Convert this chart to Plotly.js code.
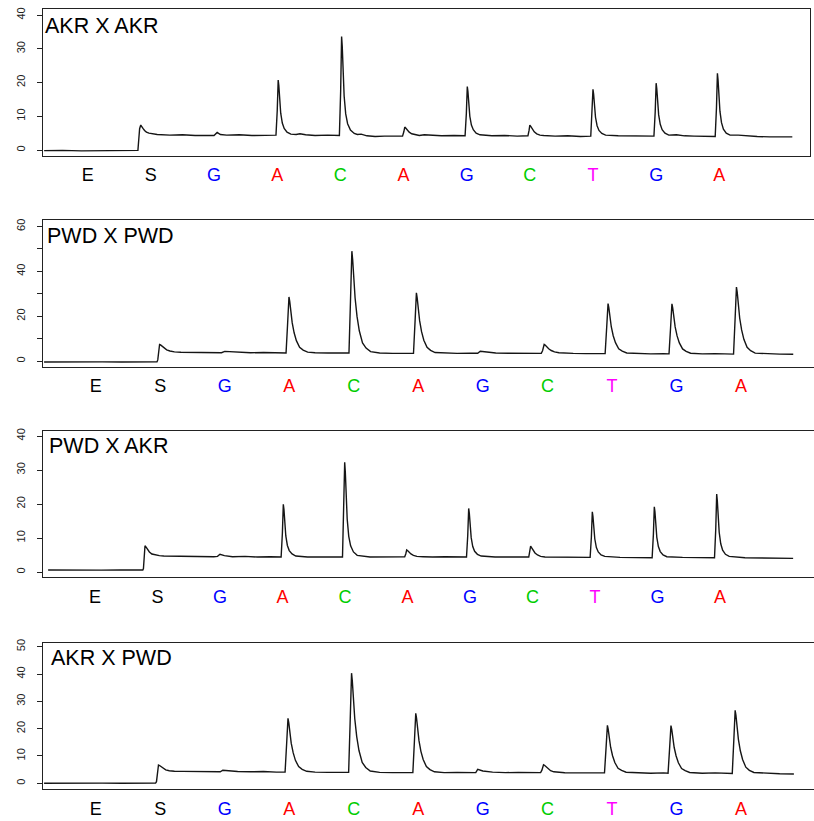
<!DOCTYPE html>
<html><head><meta charset="utf-8">
<script src="https://cdn.plot.ly/plotly-3.0.1.min.js"></script>
<style>html,body{margin:0;padding:0;background:#fff;} #chart{width:814px;height:821px;}</style>
</head><body><div id="chart"></div>
<script>
// ---------- DATA ----------
const dispensation = ['E','S','G','A','C','A','G','C','T','G','A'];
const baseColors = {E:'#000000', S:'#000000', G:'#0000FF', A:'#FF0000', C:'#00CD00', T:'#FF00FF'};
const panelNames = ['AKR X AKR', 'PWD X PWD', 'PWD X AKR', 'AKR X PWD'];

// signal traces: [dispensation position, light units]
const traceAkrAkr = [
 [0.31,-0.2],[0.6,-0.1],[0.9,-0.25],[1.2,-0.15],[1.5,-0.2],[1.78,-0.15],
 [1.795,-0.1],[1.81,3.5],[1.822,6.3],[1.84,7.4],[1.855,7.1],[1.875,6.4],[1.9,5.8],[1.93,5.3],[1.97,5.0],[2.02,4.8],[2.1,4.6],[2.3,4.4],[2.5,4.5],[2.7,4.3],[2.9,4.4],[3.0,4.3],[3.05,5.2],[3.1,4.6],[3.2,4.4],[3.4,4.5],[3.6,4.3],[3.8,4.4],[3.981,4.4],
 [4.001,11.7],[4.010,18.7],[4.016,20.7],[4.026,19.1],[4.038,15.0],[4.056,10.9],[4.081,8.0],[4.111,6.4],[4.156,5.3],[4.216,4.7],[4.3,4.6],[4.36,4.8],[4.45,4.5],[4.6,4.3],[4.8,4.4],[4.985,4.3],
 [5.005,17.5],[5.014,30.1],[5.02,33.6],[5.03,30.7],[5.042,23.3],[5.06,16.0],[5.085,10.7],[5.115,7.8],[5.16,5.9],[5.22,4.9],[5.27,4.6],[5.33,4.7],[5.42,4.2],[5.55,4.0],[5.7,4.1],[5.85,4.0],[5.985,4.1],
 [6.005,5.4],[6.02,6.8],[6.035,6.5],[6.06,5.9],[6.09,5.3],[6.13,4.8],[6.18,4.5],[6.25,4.3],[6.33,4.5],[6.45,4.3],[6.6,4.2],[6.8,4.3],[6.975,4.2],
 [6.995,10.8],[7.004,17.0],[7.01,18.8],[7.02,17.3],[7.032,13.7],[7.05,10.0],[7.075,7.4],[7.105,6.0],[7.15,5.0],[7.21,4.5],[7.4,4.2],[7.6,4.3],[7.8,4.1],[7.97,4.2],
 [7.988,5.8],[8.0,7.4],[8.015,7.0],[8.04,6.2],[8.07,5.4],[8.11,4.8],[8.16,4.4],[8.22,4.3],[8.4,4.1],[8.6,4.2],[8.8,4.0],[8.965,4.1],
 [8.985,10.4],[8.994,16.3],[9.0,18.0],[9.01,16.6],[9.022,13.1],[9.04,9.7],[9.065,7.2],[9.095,5.8],[9.14,4.9],[9.2,4.4],[9.4,4.2],[9.6,4.1],[9.8,4.2],[9.965,4.1],
 [9.985,11.2],[9.994,17.9],[10.0,19.8],[10.01,18.2],[10.022,14.3],[10.04,10.4],[10.065,7.6],[10.095,6.0],[10.14,5.0],[10.2,4.4],[10.32,4.5],[10.45,4.2],[10.6,4.1],[10.8,4.1],[10.935,4.0],
 [10.955,12.4],[10.964,20.5],[10.97,22.7],[10.98,20.8],[10.992,16.2],[11.01,11.5],[11.035,8.1],[11.065,6.2],[11.11,5.0],[11.17,4.4],[11.3,4.4],[11.45,4.1],[11.6,4.0],[11.8,3.9],[12.0,4.0],[12.156,3.9]
];
const tracePwdPwd = [
 [0.2,-0.4],[0.5,-0.3],[0.8,-0.45],[1.1,-0.35],[1.4,-0.4],[1.7,-0.3],[1.95,-0.3],
 [1.962,0.5],[1.972,4.0],[1.981,6.6],[1.99,7.4],[2.005,7.2],[2.03,6.5],[2.06,5.7],[2.1,5.0],[2.15,4.5],[2.22,4.1],[2.32,3.9],[2.45,3.8],[2.6,3.7],[2.8,3.8],[2.95,3.7],[3.0,4.3],[3.1,4.1],[3.25,3.8],[3.4,3.7],[3.6,3.8],[3.8,3.6],[3.95,3.6],
 [3.973,16.1],[3.986,26.1],[3.995,28.6],[4.007,26.6],[4.023,22.1],[4.045,17.1],[4.075,12.6],[4.11,9.1],[4.16,6.1],[4.215,4.85],[4.285,4.0],[4.4,3.7],[4.6,3.6],[4.8,3.7],[4.925,3.6],
 [4.948,26.3],[4.961,44.5],[4.97,49.0],[4.982,45.4],[4.998,37.2],[5.02,28.1],[5.05,19.9],[5.085,13.5],[5.135,8.1],[5.19,5.8],[5.26,4.2],[5.4,3.6],[5.6,3.4],[5.8,3.5],[5.925,3.4],
 [5.948,16.9],[5.961,27.7],[5.97,30.4],[5.982,28.2],[5.998,23.4],[6.02,18.0],[6.05,13.1],[6.085,9.3],[6.135,6.1],[6.19,4.75],[6.26,3.8],[6.4,3.5],[6.6,3.4],[6.8,3.5],[6.92,3.5],[6.96,4.4],[7.0,4.3],[7.05,4.0],[7.2,3.6],[7.4,3.5],[7.6,3.4],[7.8,3.4],[7.905,3.4],
 [7.925,4.6],[7.94,6.6],[7.95,7.4],[7.965,7.1],[7.99,6.3],[8.02,5.5],[8.06,4.7],[8.11,4.1],[8.18,3.7],[8.28,3.5],[8.4,3.4],[8.6,3.3],[8.8,3.4],[8.895,3.3],
 [8.918,14.5],[8.931,23.4],[8.94,25.6],[8.952,23.8],[8.968,19.8],[8.99,15.3],[9.02,11.3],[9.055,8.2],[9.105,5.5],[9.16,4.4],[9.23,3.6],[9.4,3.3],[9.6,3.2],[9.8,3.3],[9.885,3.2],
 [9.908,14.4],[9.921,23.3],[9.93,25.5],[9.942,23.7],[9.958,19.7],[9.98,15.2],[10.01,11.2],[10.045,8.1],[10.095,5.4],[10.15,4.3],[10.22,3.5],[10.4,3.2],[10.6,3.3],[10.8,3.2],[10.885,3.1],
 [10.908,18.1],[10.921,30.0],[10.93,33.0],[10.942,30.6],[10.958,25.2],[10.98,19.2],[11.01,13.9],[11.045,9.7],[11.095,6.1],[11.15,4.6],[11.22,3.55],[11.4,3.2],[11.6,3.1],[11.81,3.0]
];
const tracePwdAkr = [
 [0.25,0.6],[0.5,0.55],[0.8,0.65],[1.1,0.55],[1.4,0.6],[1.6,0.65],[1.765,0.6],
 [1.775,1.0],[1.785,4.5],[1.793,7.0],[1.80,7.7],[1.815,7.4],[1.84,6.6],[1.87,5.9],[1.91,5.3],[1.96,5.0],[2.03,4.8],[2.1,4.7],[2.3,4.6],[2.5,4.5],[2.7,4.6],[2.9,4.5],[2.96,4.6],[3.0,5.2],[3.07,4.8],[3.2,4.5],[3.4,4.6],[3.6,4.4],[3.8,4.5],[3.978,4.4],
 [3.998,11.4],[4.007,18.0],[4.013,19.9],[4.023,18.4],[4.035,14.5],[4.053,10.6],[4.078,7.8],[4.108,6.3],[4.153,5.3],[4.213,4.7],[4.4,4.4],[4.6,4.5],[4.8,4.4],[4.96,4.4],
 [4.98,17.0],[4.989,29.0],[4.995,32.3],[5.005,29.5],[5.017,22.5],[5.035,15.6],[5.06,10.5],[5.09,7.7],[5.135,5.9],[5.195,4.9],[5.4,4.4],[5.6,4.5],[5.8,4.4],[5.955,4.5],
 [5.972,5.3],[5.987,6.5],[6.0,6.3],[6.025,5.8],[6.055,5.3],[6.095,4.9],[6.15,4.6],[6.25,4.5],[6.4,4.4],[6.6,4.5],[6.8,4.4],[6.944,4.4],
 [6.964,10.8],[6.973,17.0],[6.979,18.7],[6.989,17.3],[7.001,13.7],[7.019,10.1],[7.044,7.5],[7.074,6.1],[7.119,5.2],[7.179,4.7],[7.4,4.4],[7.6,4.5],[7.8,4.4],[7.94,4.4],
 [7.958,6.0],[7.97,7.6],[7.985,7.2],[8.01,6.4],[8.04,5.6],[8.08,5.0],[8.13,4.6],[8.2,4.4],[8.4,4.4],[8.6,4.3],[8.8,4.4],[8.922,4.3],
 [8.942,10.3],[8.951,16.1],[8.957,17.7],[8.967,16.4],[8.979,13.0],[8.997,9.7],[9.022,7.2],[9.052,5.9],[9.097,5.0],[9.157,4.6],[9.4,4.3],[9.6,4.2],[9.8,4.3],[9.914,4.2],
 [9.934,11.0],[9.943,17.4],[9.949,19.2],[9.959,17.7],[9.971,14.0],[9.989,10.2],[10.014,7.5],[10.044,6.0],[10.089,5.0],[10.149,4.5],[10.4,4.3],[10.6,4.2],[10.8,4.3],[10.912,4.2],
 [10.932,12.6],[10.941,20.7],[10.947,22.9],[10.957,21.0],[10.969,16.4],[10.987,11.7],[11.012,8.3],[11.042,6.4],[11.087,5.2],[11.147,4.6],[11.4,4.2],[11.6,4.1],[11.8,4.0],[12.0,4.1],[12.17,4.0]
];
const traceAkrPwd = [
 [0.2,0.0],[0.5,0.1],[0.8,-0.05],[1.1,0.05],[1.4,0.0],[1.7,0.1],[1.928,0.05],
 [1.942,0.6],[1.954,3.8],[1.964,6.0],[1.973,6.7],[1.99,6.5],[2.015,6.0],[2.045,5.4],[2.085,4.9],[2.14,4.6],[2.22,4.4],[2.35,4.35],[2.45,4.3],[2.65,4.2],[2.85,4.3],[2.93,4.2],[2.97,4.8],[3.06,4.5],[3.2,4.3],[3.4,4.2],[3.6,4.3],[3.8,4.1],[3.935,4.1],
 [3.958,14.0],[3.971,21.8],[3.98,23.8],[3.992,22.2],[4.008,18.7],[4.03,14.7],[4.06,11.2],[4.095,8.4],[4.145,6.1],[4.2,5.1],[4.27,4.4],[4.4,4.1],[4.6,4.0],[4.8,4.1],[4.92,4.0],
 [4.943,22.2],[4.956,36.7],[4.965,40.3],[4.977,37.4],[4.993,30.9],[5.015,23.6],[5.045,17.1],[5.08,12.0],[5.13,7.6],[5.185,5.8],[5.255,4.5],[5.4,4.0],[5.6,3.9],[5.8,4.0],[5.915,3.9],
 [5.938,14.75],[5.951,23.4],[5.96,25.6],[5.972,23.9],[5.988,20.0],[6.01,15.6],[6.04,11.7],[6.075,8.7],[6.125,6.1],[6.18,5.0],[6.25,4.2],[6.4,3.9],[6.6,4.0],[6.8,3.9],[6.89,3.9],[6.92,5.1],[6.96,4.8],[7.0,4.5],[7.15,4.1],[7.35,3.9],[7.55,4.0],[7.75,3.8],[7.895,3.9],
 [7.915,4.8],[7.93,6.2],[7.94,6.8],[7.955,6.6],[7.98,6.0],[8.01,5.3],[8.05,4.6],[8.1,4.2],[8.17,3.95],[8.27,3.85],[8.4,3.8],[8.6,3.9],[8.8,3.8],[8.885,3.8],
 [8.908,12.5],[8.921,19.5],[8.93,21.2],[8.942,19.8],[8.958,16.7],[8.98,13.2],[9.01,10.1],[9.045,7.6],[9.095,5.5],[9.15,4.7],[9.22,4.05],[9.4,3.8],[9.6,3.7],[9.8,3.8],[9.87,3.7],
 [9.893,12.4],[9.906,19.4],[9.915,21.1],[9.927,19.7],[9.943,16.6],[9.965,13.1],[9.995,10.0],[10.03,7.5],[10.08,5.4],[10.135,4.6],[10.205,3.95],[10.4,3.7],[10.6,3.8],[10.8,3.6],[10.865,3.6],
 [10.888,15.15],[10.901,24.4],[10.91,26.7],[10.922,24.85],[10.938,20.7],[10.96,16.1],[10.99,11.9],[11.025,8.7],[11.075,5.9],[11.13,4.75],[11.2,3.95],[11.4,3.6],[11.6,3.5],[11.82,3.4]
];
const yTicksAkrAkr = [0,10,20,30,40];      const yLabelsAkrAkr = ['0','10','20','30','40'];
const yTicksPwdPwd = [0,10,20,30,40,50,60]; const yLabelsPwdPwd = ['0','','20','','40','','60'];
const yTicksPwdAkr = [0,10,20,30,40];      const yLabelsPwdAkr = ['0','10','20','30','40'];
const yTicksAkrPwd = [0,10,20,30,40,50];   const yLabelsAkrPwd = ['0','10','20','30','40','50'];

// ---------- LAYOUT ----------
const W = 814, H = 821;
const FONT = 'Liberation Sans, Arial, Helvetica, sans-serif';
const panels = [
 {name:panelNames[0], data:traceAkrAkr, tv:yTicksAkrAkr, tt:yLabelsAkrAkr, box:[43.3,810,9,155.5],   xr:[0.297,12.436], yr:[-1.63,41.78], title:[43.3,11.7]},
 {name:panelNames[1], data:tracePwdPwd, tv:yTicksPwdPwd, tt:yLabelsPwdPwd, box:[43.3,813.5,220,366.7], xr:[0.188,12.124], yr:[-2.52,62.9],  title:[45,222.3]},
 {name:panelNames[2], data:tracePwdAkr, tv:yTicksPwdAkr, tt:yLabelsPwdAkr, box:[43.3,814,430.7,577.3], xr:[0.1728,12.504], yr:[-1.56,41.56], title:[46.6,432.3]},
 {name:panelNames[3], data:traceAkrPwd, tv:yTicksAkrPwd, tt:yLabelsAkrPwd, box:[43.3,813.5,642.7,789.3], xr:[0.188,12.124], yr:[-2.2,51.46],  title:[49,644.3]}
];

const xTickText = dispensation.map(b => '<span style="color:' + baseColors[b] + '">' + b + '</span>');
const xTickVals = dispensation.map((b, i) => i + 1);

const traces = [];
const layout = {
  width: W, height: H,
  margin: {l:0, r:0, t:0, b:0},
  paper_bgcolor: '#ffffff', plot_bgcolor: '#ffffff',
  showlegend: false,
  font: {family: FONT, color: '#000'},
  annotations: []
};

panels.forEach((p, i) => {
  const n = i === 0 ? '' : String(i + 1);
  traces.push({
    type: 'scatter', mode: 'lines',
    x: p.data.map(d => d[0]), y: p.data.map(d => d[1]),
    xaxis: 'x' + n, yaxis: 'y' + n,
    line: {color: '#151515', width: 1.4},
    hoverinfo: 'skip'
  });
  const [l, r, t, b] = p.box;
  layout['xaxis' + n] = {
    domain: [l / W, Math.min(r / W, 1)], anchor: 'y' + n,
    range: p.xr, showgrid: false, zeroline: false,
    showline: true, mirror: true, linecolor: '#222', linewidth: 1,
    ticks: '', tickmode: 'array', tickvals: xTickVals, ticktext: xTickText,
    tickfont: {family: FONT, size: 18, color: '#000'},
    ticklabelstandoff: 3
  };
  layout['yaxis' + n] = {
    domain: [1 - b / H, 1 - t / H], anchor: 'x' + n,
    range: p.yr, showgrid: false, zeroline: false,
    showline: true, mirror: true, linecolor: '#222', linewidth: 1,
    ticks: 'outside', ticklen: 5, tickwidth: 1, tickcolor: '#222',
    tickmode: 'array', tickvals: p.tv, ticktext: p.tt,
    tickangle: -90,
    tickfont: {family: FONT, size: 11, color: '#222'},
    ticklabelstandoff: 8
  };
  layout.annotations.push({
    xref: 'paper', yref: 'paper', x: p.title[0] / W, y: 1 - p.title[1] / H,
    xanchor: 'left', yanchor: 'top', showarrow: false,
    text: p.name, font: {family: FONT, size: 21.5, color: '#000'}
  });
});

Plotly.newPlot('chart', traces, layout, {displayModeBar: false, staticPlot: true});
</script></body></html>
